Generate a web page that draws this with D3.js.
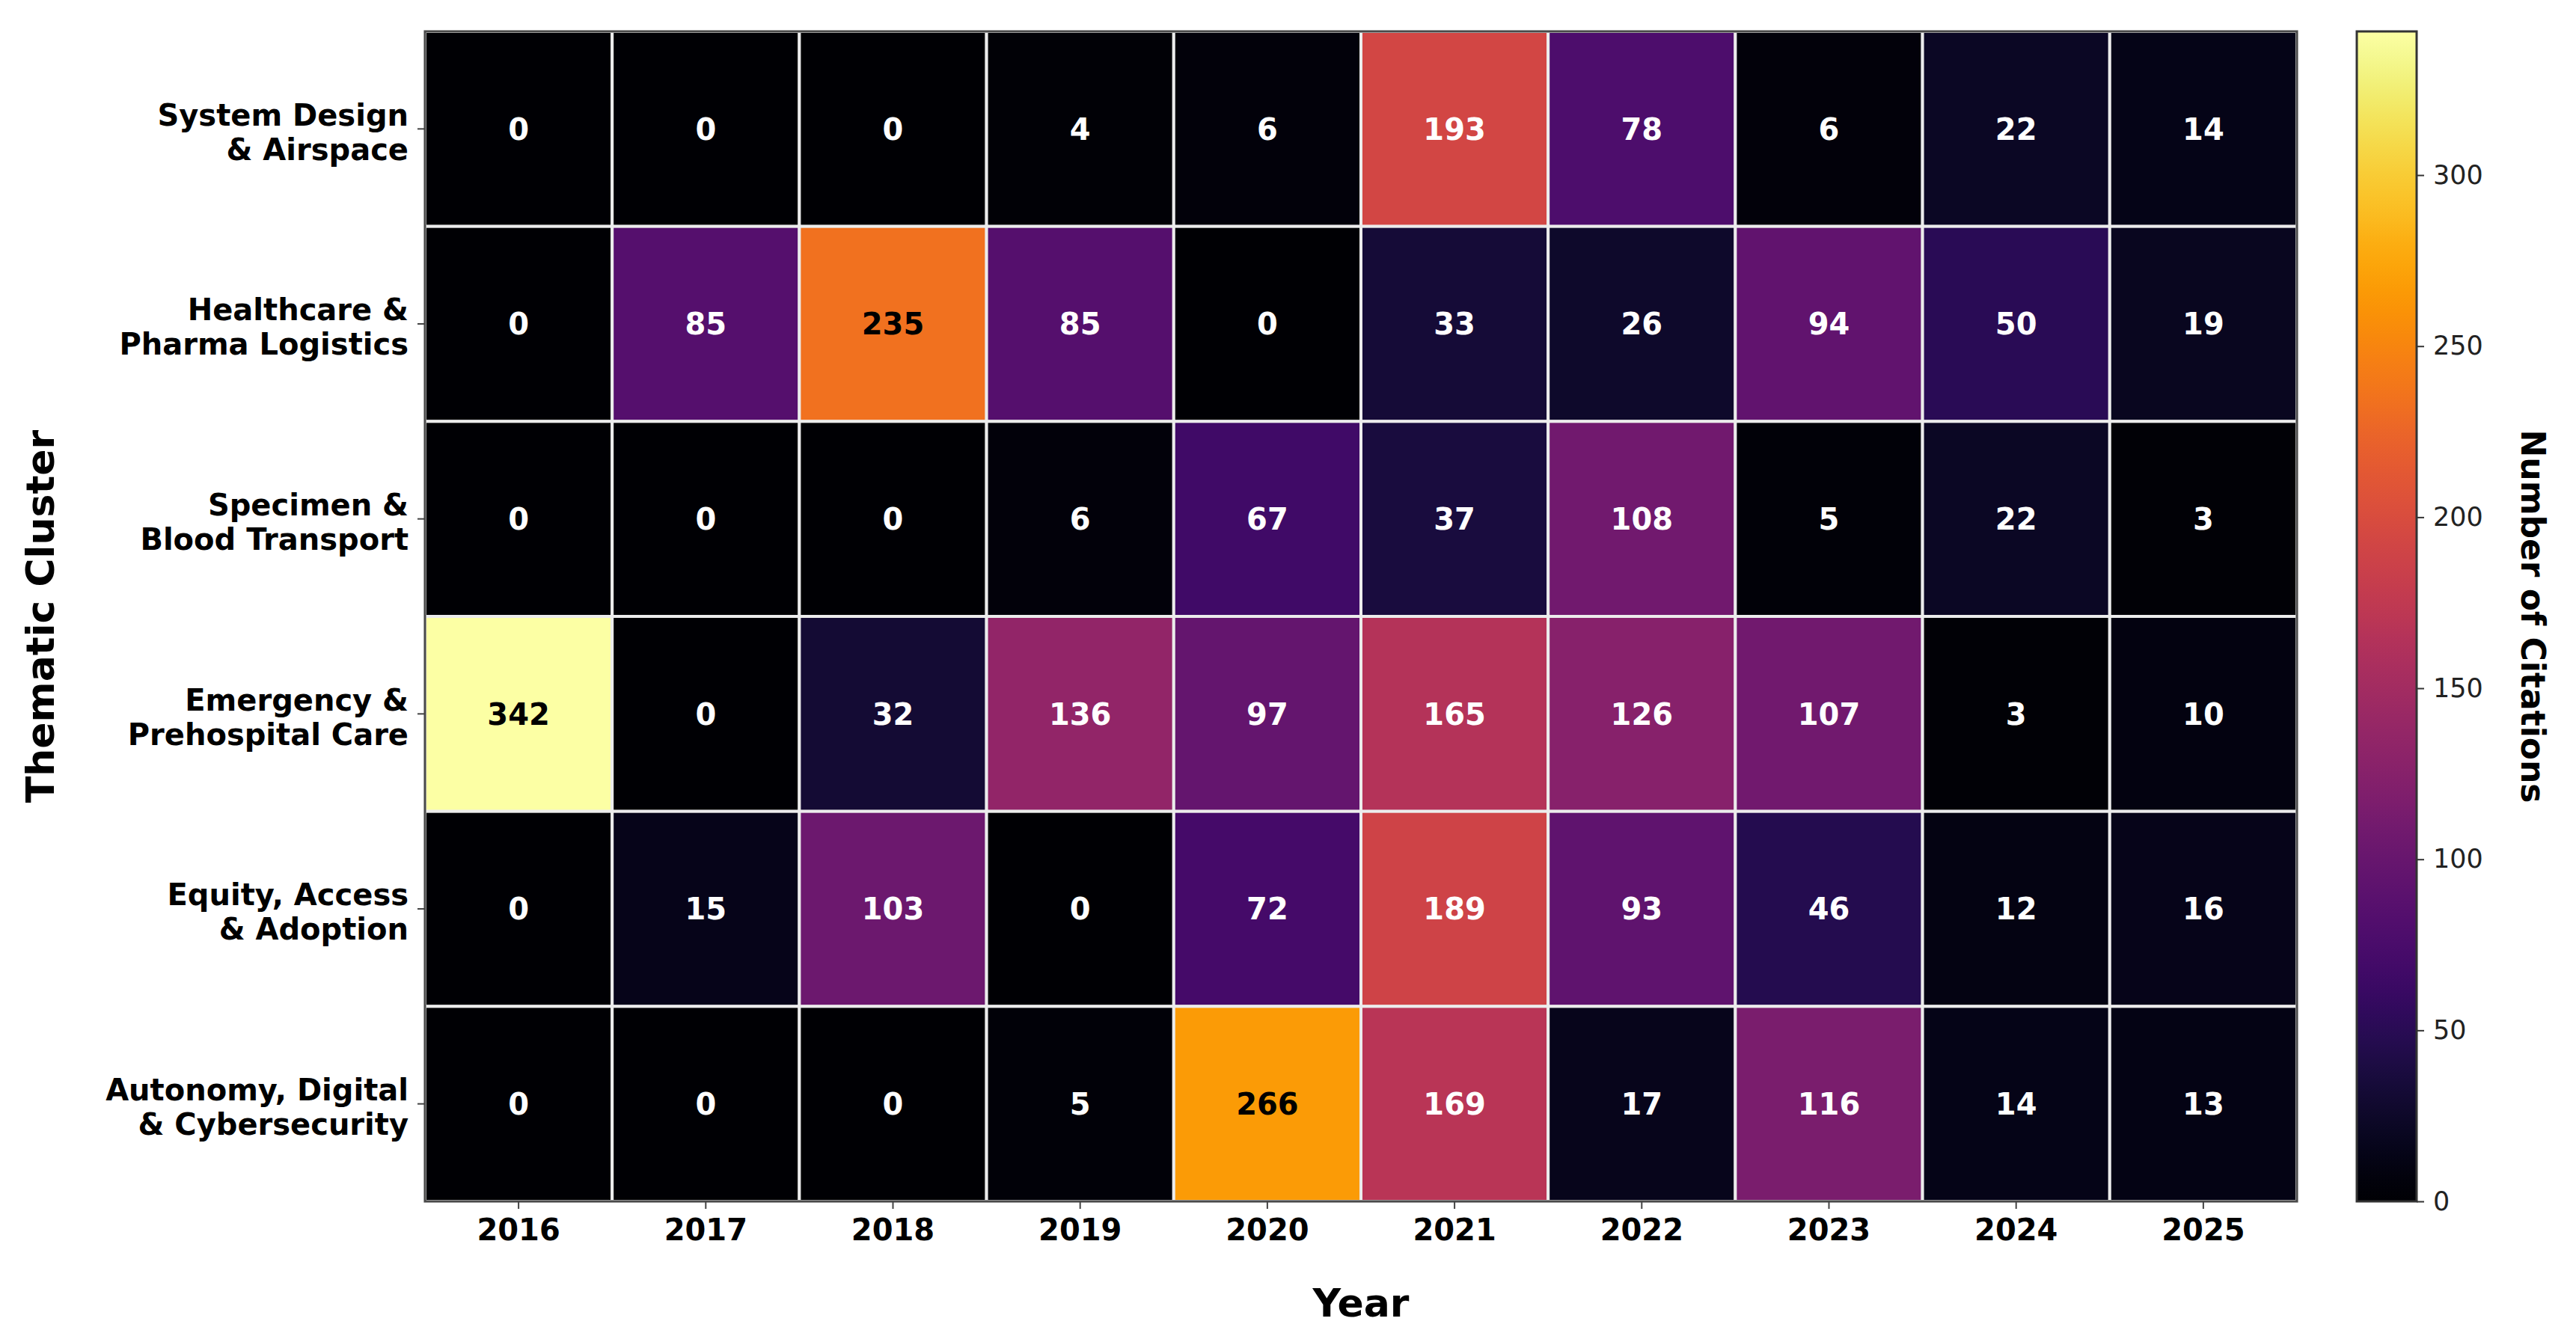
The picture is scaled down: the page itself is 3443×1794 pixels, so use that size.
<!DOCTYPE html>
<html>
<head>
<meta charset="utf-8">
<script src="https://cdn.jsdelivr.net/npm/d3@7"></script>
<style>
  body { margin: 0; background: #fff; }
  text { font-family: "DejaVu Sans", sans-serif; }
</style>
</head>
<body>
<script>
// chart size
var w = 3443;
var h = 1794;

// data
var years = ["2016", "2017", "2018", "2019", "2020", "2021", "2022", "2023", "2024", "2025"];
var clusters = [
    ["System Design", "& Airspace"],
    ["Healthcare &", "Pharma Logistics"],
    ["Specimen &", "Blood Transport"],
    ["Emergency &", "Prehospital Care"],
    ["Equity, Access", "& Adoption"],
    ["Autonomy, Digital", "& Cybersecurity"]
];
var systemDesign = [0, 0, 0, 4, 6, 193, 78, 6, 22, 14];
var healthcare   = [0, 85, 235, 85, 0, 33, 26, 94, 50, 19];
var specimen     = [0, 0, 0, 6, 67, 37, 108, 5, 22, 3];
var emergency    = [342, 0, 32, 136, 97, 165, 126, 107, 3, 10];
var equity       = [0, 15, 103, 0, 72, 189, 93, 46, 12, 16];
var autonomy     = [0, 0, 0, 5, 266, 169, 17, 116, 14, 13];
var colorTicks = [0, 50, 100, 150, 200, 250, 300];

var rows = [systemDesign, healthcare, specimen, emergency, equity, autonomy];

// flatten into cells
var cells = [];
rows.forEach(function(r, i) {
    r.forEach(function(v, j) {
        cells.push({ row: i, col: j, value: v });
    });
});

var maxVal = d3.max(cells, function(d) { return d.value; });

// plot area (window.top is reserved, so use other names)
var plotLeft = 568, plotRight = 3070, plotTop = 42, plotBottom = 1606;

var xScale = d3.scaleBand()
    .domain(d3.range(years.length))
    .range([plotLeft, plotRight]);

var yScale = d3.scaleBand()
    .domain(d3.range(clusters.length))
    .range([plotTop, plotBottom]);

var color = d3.scaleSequential(d3.interpolateInferno)
    .domain([0, maxVal]);

var svg = d3.select("body")
    .append("svg")
    .attr("width", w)
    .attr("height", h);

// heatmap cells
svg.selectAll("rect.cell")
    .data(cells)
    .enter()
    .append("rect")
    .attr("class", "cell")
    .attr("x", function(d) { return xScale(d.col); })
    .attr("y", function(d) { return yScale(d.row); })
    .attr("width", xScale.bandwidth())
    .attr("height", yScale.bandwidth())
    .attr("fill", function(d) { return color(d.value); })
    .attr("stroke", "#ececec")
    .attr("stroke-width", 4);

// outer frame
svg.append("rect")
    .attr("x", plotLeft)
    .attr("y", plotTop)
    .attr("width", plotRight - plotLeft)
    .attr("height", plotBottom - plotTop)
    .attr("fill", "none")
    .attr("stroke", "#4a4a4a")
    .attr("stroke-width", 3);

// cell values
svg.selectAll("text.val")
    .data(cells)
    .enter()
    .append("text")
    .attr("class", "val")
    .attr("x", function(d) { return xScale(d.col) + xScale.bandwidth() / 2; })
    .attr("y", function(d) { return yScale(d.row) + yScale.bandwidth() / 2; })
    .attr("dy", "0.36em")
    .attr("text-anchor", "middle")
    .attr("font-size", 40)
    .attr("font-weight", "bold")
    .attr("fill", function(d) { return d.value > maxVal * 0.6 ? "#000" : "#fff"; })
    .text(function(d) { return d.value; });

// x axis
var xAxis = d3.axisBottom(xScale)
    .tickFormat(function(i) { return years[i]; })
    .tickSize(10)
    .tickPadding(14);

var gx = svg.append("g")
    .attr("transform", "translate(0," + plotBottom + ")")
    .call(xAxis);
gx.select(".domain").remove();
gx.selectAll("line").attr("stroke", "#444").attr("stroke-width", 2);
gx.selectAll("text")
    .attr("font-size", 40)
    .attr("font-weight", "bold")
    .attr("fill", "#000");

// y axis with two-line labels
var yAxis = d3.axisLeft(yScale)
    .tickFormat("")
    .tickSize(10);

var gy = svg.append("g")
    .attr("transform", "translate(" + plotLeft + ",0)")
    .call(yAxis);
gy.select(".domain").remove();
gy.selectAll("line").attr("stroke", "#444").attr("stroke-width", 2);

svg.selectAll("text.rowlab")
    .data(clusters)
    .enter()
    .append("text")
    .attr("class", "rowlab")
    .attr("text-anchor", "end")
    .attr("font-size", 40)
    .attr("font-weight", "bold")
    .attr("x", plotLeft - 22)
    .attr("y", function(d, i) { return yScale(i) + yScale.bandwidth() / 2; })
    .each(function(d) {
        var t = d3.select(this);
        t.append("tspan").attr("x", plotLeft - 22).attr("dy", "-0.12em").text(d[0]);
        t.append("tspan").attr("x", plotLeft - 22).attr("dy", "1.15em").text(d[1]);
    });

// axis titles
svg.append("text")
    .attr("text-anchor", "middle")
    .attr("x", (plotLeft + plotRight) / 2)
    .attr("y", 1760)
    .attr("font-size", 52)
    .attr("font-weight", "bold")
    .text("Year");

svg.append("text")
    .attr("text-anchor", "middle")
    .attr("transform", "translate(72," + (plotTop + plotBottom) / 2 + ") rotate(-90)")
    .attr("font-size", 52)
    .attr("font-weight", "bold")
    .text("Thematic Cluster");

// colorbar
var cbLeft = 3150, cbWidth = 80;

var defs = svg.append("defs");
var grad = defs.append("linearGradient")
    .attr("id", "cbgrad")
    .attr("x1", "0%").attr("y1", "100%")
    .attr("x2", "0%").attr("y2", "0%");
d3.range(0, 1.0001, 0.02).forEach(function(t) {
    grad.append("stop")
        .attr("offset", (t * 100) + "%")
        .attr("stop-color", d3.interpolateInferno(t));
});

svg.append("rect")
    .attr("x", cbLeft)
    .attr("y", plotTop)
    .attr("width", cbWidth)
    .attr("height", plotBottom - plotTop)
    .attr("fill", "url(#cbgrad)")
    .attr("stroke", "#333")
    .attr("stroke-width", 3);

var cScale = d3.scaleLinear()
    .domain([0, maxVal])
    .range([plotBottom, plotTop]);

var cAxis = d3.axisRight(cScale)
    .tickValues(colorTicks)
    .tickSize(10)
    .tickPadding(12);

var gc = svg.append("g")
    .attr("transform", "translate(" + (cbLeft + cbWidth) + ",0)")
    .call(cAxis);
gc.select(".domain").remove();
gc.selectAll("line").attr("stroke", "#333").attr("stroke-width", 2);
gc.selectAll("text")
    .attr("font-size", 35)
    .attr("fill", "#222");

svg.append("text")
    .attr("text-anchor", "middle")
    .attr("transform", "translate(3370," + (plotTop + plotBottom) / 2 + ") rotate(90)")
    .attr("font-size", 44)
    .attr("font-weight", "bold")
    .text("Number of Citations");
</script>
</body>
</html>
